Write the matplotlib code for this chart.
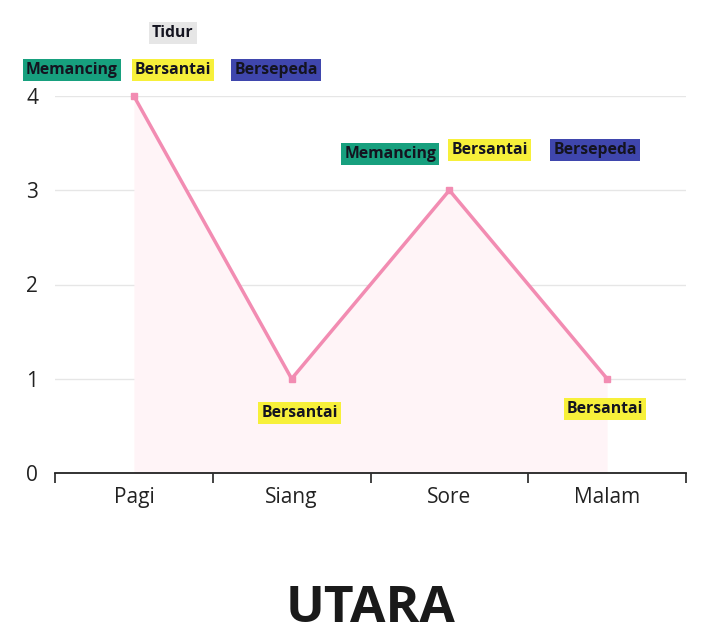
import matplotlib
matplotlib.use("Agg")
import matplotlib.pyplot as plt
from matplotlib.ticker import FixedLocator

plt.rcParams['font.family'] = ['Open Sans', 'DejaVu Sans']

categories = ["Pagi", "Siang", "Sore", "Malam"]
values = [4, 1, 3, 1]
yticks = [0, 1, 2, 3, 4]
title = "UTARA"

# activity labels per point: (category index, text)
labels = [
    (0, "Tidur"), (0, "Memancing"), (0, "Bersantai"), (0, "Bersepeda"),
    (1, "Bersantai"),
    (2, "Memancing"), (2, "Bersantai"), (2, "Bersepeda"),
    (3, "Bersantai"),
]
# label placement offsets in pixels (style only)
offsets = [(39, 63), (-62, 26), (39, 26), (142, 26),
           (8, -34),
           (-59, 36), (40, 40), (146, 40),
           (-2, -30)]
box_colors = {"Tidur": "#e6e6e6", "Memancing": "#17a07e",
              "Bersantai": "#f7f03a", "Bersepeda": "#3f46ad"}

fig = plt.figure(figsize=(7.10, 6.34), dpi=100)
ax = fig.add_axes([55/710, 1-473/634, (686-55)/710, (473-96)/634])

x = list(range(len(categories)))
ax.fill_between(x, values, 0, color="#fff4f7", lw=0, zorder=1)
ax.plot(x, values, color="#f28cb2", lw=2.5, marker="s", ms=5, zorder=3, clip_on=False)

ax.set_xlim(-0.5, len(categories) - 0.5)
ax.set_ylim(0, 4)
ax.set_yticks(yticks)
ax.set_yticklabels([str(v) for v in yticks])
ax.yaxis.grid(True, color="#e6e6e6", lw=1)
ax.set_axisbelow(True)
ax.tick_params(axis="y", length=0, pad=12, labelsize=15, labelcolor="#222222")

ax.xaxis.set_major_locator(FixedLocator([i - 0.5 for i in range(len(categories) + 1)]))
ax.xaxis.set_minor_locator(FixedLocator(x))
ax.xaxis.set_major_formatter(plt.NullFormatter())
ax.set_xticks(x, minor=True)
ax.set_xticklabels(categories, minor=True)
ax.tick_params(axis="x", which="major", length=7, width=1.2, color="#222222")
ax.tick_params(axis="x", which="minor", length=0, pad=10, labelsize=15, labelcolor="#222222")

for s in ["top", "right", "left"]:
    ax.spines[s].set_visible(False)
ax.spines["bottom"].set_color("#222222")
ax.spines["bottom"].set_linewidth(1.3)

for (ci, txt), off in zip(labels, offsets):
    ax.annotate(txt, (x[ci], values[ci]), xytext=off, textcoords="offset pixels",
                ha="center", va="center", fontsize=11.3, fontweight="bold",
                color="#141420", annotation_clip=False, zorder=5,
                bbox=dict(boxstyle="square,pad=0.2", fc=box_colors[txt], ec="none"))

fig.text((55+686)/2/710, 1-609/634, title, ha="center", va="center",
         fontsize=37, fontweight="bold", color="#1a1a1a")

fig.savefig("out.png", dpi=100, facecolor="white")
